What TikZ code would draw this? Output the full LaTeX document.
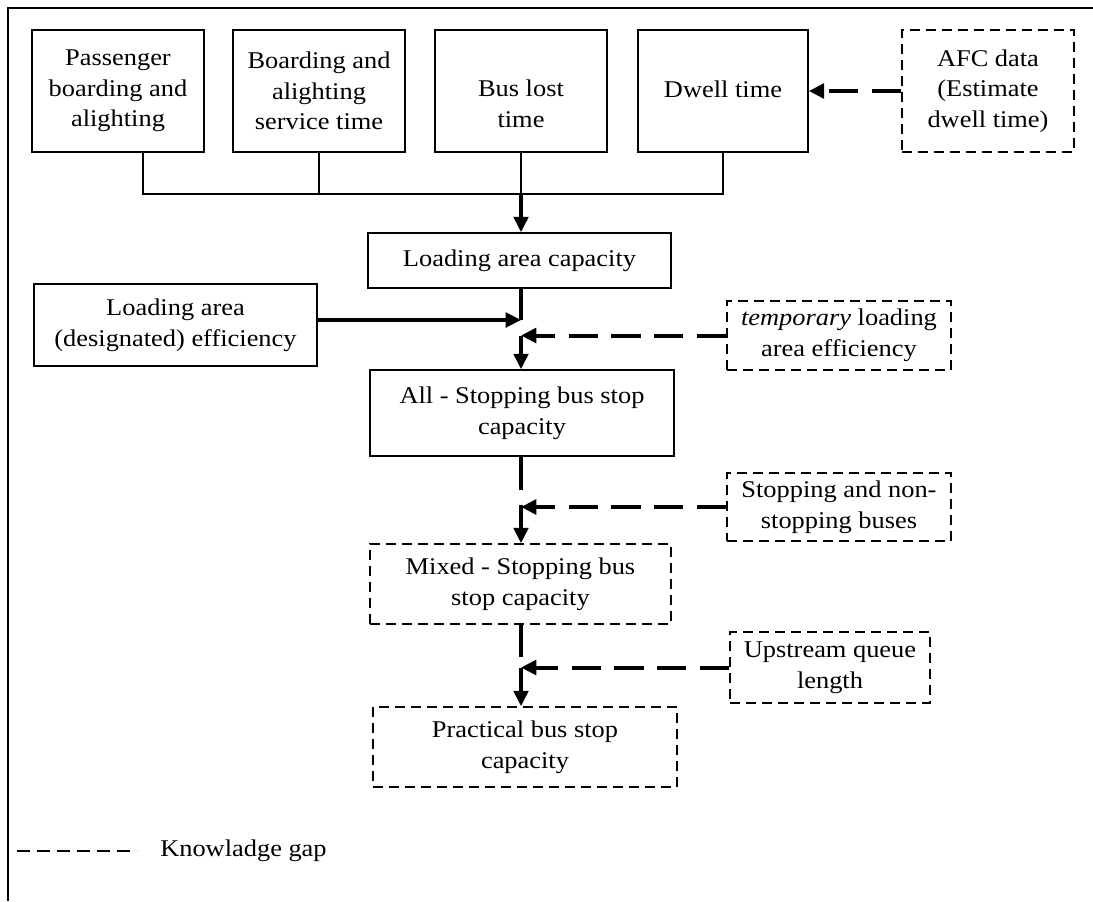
\documentclass[tikz,border=0pt]{standalone}
\usepackage{fontspec}
\setmainfont{Liberation Serif}[FakeStretch=1.1]
\usetikzlibrary{arrows.meta}
\begin{document}
\begin{tikzpicture}[x=0.75pt,y=-0.75pt,
  txt/.style={font=\fontsize{18}{23}\selectfont},
  box/.style={draw, line width=1.3pt, inner sep=0pt, align=center, txt},
  gapbox/.style={box, dash pattern=on 7.5pt off 4.5pt},
  sz/.style 2 args={minimum width=#1*0.75pt, minimum height=#2*0.75pt},
  link/.style={line width=1.5pt},
  thick link/.style={line width=2.4pt},
  tip/.style={-{Triangle[length=11.5pt,width=11pt]}},
  flow/.style={line width=2.4pt, tip},
  gapflow/.style={line width=3pt, dash pattern=on 22pt off 10pt, tip},
]
\useasboundingbox (0,0) rectangle (1093,901);

% frame
\draw[line width=1.5pt] (1093,8) -- (8,8) -- (8,901);

% top row of factors
\node[box, sz={172}{122}] (b1) at (118,91) {Passenger\\boarding and\\alighting};
\node[box, sz={172}{122}] (b2) at (319,91) {Boarding and\\alighting\\service time};
\node[box, sz={172}{122}] (b3) at (521,91) {\strut\\Bus lost\\time\rule[-8pt]{0pt}{8pt}};
\node[box, sz={170}{122}] (b4) at (723,91) {\strut\\Dwell time\\\strut};
\node[gapbox, sz={172}{122}] (afc) at (988,91) {AFC data\\(Estimate\\dwell time)};

% capacity chain
\node[box, sz={303}{55}] (lac) at (519.5,260.5) {Loading area capacity};
\node[box, sz={283}{82}] (lae) at (175.5,325) {Loading area\\(designated) efficiency};
\node[gapbox, sz={224}{69}] (tmp) at (839,335.5) {\textit{temporary} loading\\area efficiency};
\node[box, sz={304}{86}] (all) at (522,413) {All - Stopping bus stop\\capacity};
\node[gapbox, sz={224}{68}] (stp) at (839,507) {Stopping and non-\\stopping buses};
\node[gapbox, sz={301}{80}] (mix) at (520.5,584) {Mixed - Stopping bus\\stop capacity};
\node[gapbox, sz={200}{71}] (ups) at (830,667.5) {Upstream queue\\length};
\node[gapbox, sz={304}{80}] (prc) at (525,747) {Practical bus stop\\capacity};

% junction points
\coordinate (t1) at (143,194);
\coordinate (t2) at (319,194);
\coordinate (t3) at (521,194);
\coordinate (t4) at (723,194);
\coordinate (j1) at (521,320);
\coordinate (j2) at (521,335.5);
\coordinate (k1) at (521,490);
\coordinate (k2) at (521,505);
\coordinate (m1) at (521,657);
\coordinate (m2) at (521,667.5);

% AFC data feeds dwell time
\draw[gapflow] (afc.west) -- (b4.east);

% merging tree into loading area capacity
\draw[link] (t1 |- b1.south) -- (t1) -- (t4) -- (t4 |- b4.south);
\draw[link] (t2 |- b2.south) -- (t2);
\draw[link] (t3 |- b3.south) -- (t3);
\draw[flow] (t3) -- (t3 |- lac.north);

% loading area capacity -> all-stopping capacity
\draw[thick link] (j1 |- lac.south) -- (j1);
\draw[flow] (lae.east |- j1) -- (j1);
\draw[gapflow] (tmp.west) -- (j2 |- tmp.west);
\draw[flow] (j2) -- (j2 |- all.north);

% all-stopping -> mixed-stopping capacity
\draw[thick link] (k1 |- all.south) -- (k1);
\draw[gapflow] (stp.west) -- (k2 |- stp.west);
\draw[flow] (k2) -- (k2 |- mix.north);

% mixed-stopping -> practical capacity
\draw[thick link] (m1 |- mix.south) -- (m1);
\draw[gapflow] (ups.west) -- (m2 |- ups.west);
\draw[flow] (m2) -- (m2 |- prc.north);

% legend
\coordinate (lg1) at (17,851);
\coordinate (lg2) at (137,851);
\draw[line width=1.2pt, dash pattern=on 9.75pt off 5.25pt] (lg1) -- (lg2);
\node[txt, anchor=west, inner sep=0pt] (lgtext) at (160,851) {Knowladge gap};
\end{tikzpicture}
\end{document}
